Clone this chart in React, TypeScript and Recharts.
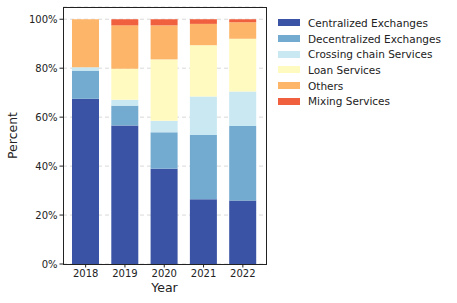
import { Bar, BarChart, CartesianGrid, XAxis, YAxis } from 'recharts'

const years = ['2018', '2019', '2020', '2021', '2022']
const centralized = [67.5, 56.6, 38.9, 26.5, 25.9]
const decentralized = [11.5, 8.1, 14.9, 26.2, 30.5]
const crossing = [1.4, 2.4, 4.7, 15.7, 14.1]
const loan = [0, 12.7, 25.1, 21.0, 21.5]
const others = [19.6, 17.7, 13.9, 8.7, 6.8]
const mixing = [0, 2.5, 2.5, 1.9, 1.2]
const yTicks = [0, 20, 40, 60, 80, 100]

const series = [
  { key: 'centralized', name: 'Centralized Exchanges', color: '#3a53a4' },
  { key: 'decentralized', name: 'Decentralized Exchanges', color: '#73abd0' },
  { key: 'crossing', name: 'Crossing chain Services', color: '#c9e8f2' },
  { key: 'loan', name: 'Loan Services', color: '#fffabf' },
  { key: 'others', name: 'Others', color: '#fdb56a' },
  { key: 'mixing', name: 'Mixing Services', color: '#f0603e' },
]

const data = years.map((year, i) => ({
  year,
  centralized: centralized[i],
  decentralized: decentralized[i],
  crossing: crossing[i],
  loan: loan[i],
  others: others[i],
  mixing: mixing[i],
}))

const font = 'DejaVu Sans, sans-serif'
const ink = '#222'

export default function App() {
  return (
    <div style={{ position: 'absolute', left: 0, top: 0, width: 457, height: 303, fontFamily: font }}>
      <BarChart
        width={457}
        height={303}
        data={data}
        margin={{ top: 7, right: 191, bottom: 0, left: 0 }}
        barSize={27}
      >
        <CartesianGrid vertical={false} stroke="#d9d9d9" strokeDasharray="4 3" />
        <XAxis
          dataKey="year"
          height={39}
          padding={{ left: 3, right: 3.5 }}
          axisLine={false}
          stroke={ink}
          tickSize={3.5}
          tick={{ fill: ink, fontSize: 10, fontFamily: font }}
          label={{ value: 'Year', position: 'insideBottom', offset: 11, fill: ink, fontSize: 12.5, fontFamily: font }}
        />
        <YAxis
          width={63}
          domain={[0, 105]}
          ticks={yTicks}
          tickFormatter={(v) => `${v}%`}
          axisLine={false}
          stroke={ink}
          tickSize={3.5}
          tick={{ fill: ink, fontSize: 10, fontFamily: font }}
          label={{ value: 'Percent', angle: -90, position: 'insideLeft', offset: 13, fill: ink, fontSize: 12.5, fontFamily: font, style: { textAnchor: 'middle' } }}
        />
        {series.map((s) => (
          <Bar
            key={s.key}
            dataKey={s.key}
            name={s.name}
            stackId="a"
            fill={s.color}
            isAnimationActive={false}
          />
        ))}
      </BarChart>
      {/* axes frame (matplotlib draws all four spines) */}
      <div
        style={{
          position: 'absolute',
          left: 62.5,
          top: 6.5,
          width: 204,
          height: 258,
          boxSizing: 'border-box',
          border: `1px solid ${ink}`,
          pointerEvents: 'none',
        }}
      />
      <div style={{ position: 'absolute', left: 278, top: 15, fontSize: 10.5, color: ink }}>
        {series.map((s) => (
          <div key={s.key} style={{ display: 'flex', alignItems: 'center', height: 15.7 }}>
            <span style={{ display: 'inline-block', width: 22, height: 7, background: s.color, marginRight: 8 }} />
            <span>{s.name}</span>
          </div>
        ))}
      </div>
    </div>
  )
}
